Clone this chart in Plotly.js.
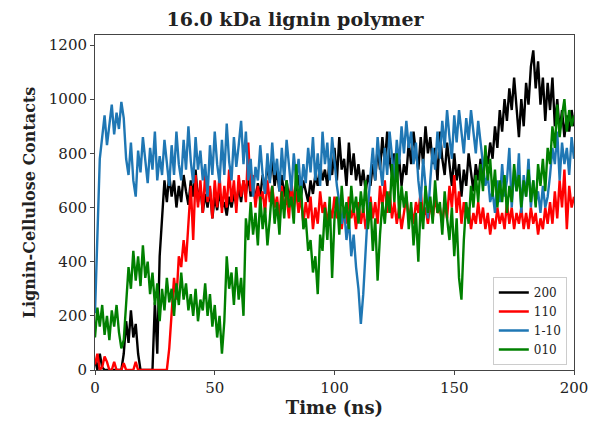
<!DOCTYPE html>
<html>
<head>
<meta charset="utf-8">
<script src="https://cdn.plot.ly/plotly-3.0.1.min.js"></script>
<style>html,body{margin:0;padding:0;background:#fff;}#chart{width:590px;height:426px;}</style>
</head>
<body>
<div id="chart"></div>
<script>
// Time axis: 0..200 ns, 1 ns step
var seriesNames = ["200", "110", "1-10", "010"];

var contacts200 = [
40, 0, 60, 10, 0, 0, 0, 0, 0, 0,
0, 0, 60, 180, 100, 220, 120, 170, 60, 0,
0, 0, 0, 0, 0, 250, 60, 420, 560, 700,
620, 720, 640, 700, 600, 680, 620, 720, 660, 610,
700, 640, 740, 620, 680, 580, 650, 600, 670, 560,
640, 590, 660, 600, 620, 570, 640, 600, 650, 610,
680, 620, 700, 650, 720, 640, 700, 620, 690, 640,
720, 660, 760, 700, 780, 680, 740, 660, 720, 640,
700, 630, 680, 620, 660, 720, 640, 700, 660, 620,
700, 650, 720, 680, 760, 700, 740, 680, 780, 720,
820, 700, 860, 740, 780, 680, 840, 720, 800, 700,
760, 680, 740, 660, 720, 680, 760, 700, 820, 740,
860, 760, 880, 780, 720, 800, 700, 780, 680, 760,
720, 840, 760, 880, 800, 740, 860, 760, 900, 800,
860, 760, 820, 700, 880, 780, 720, 840, 760, 680,
800, 700, 760, 640, 740, 680, 800, 720, 660, 760,
700, 780, 720, 800, 760, 840, 780, 900, 820, 960,
880, 1000, 920, 1040, 960, 1080, 980, 860, 1000, 900,
1060, 980, 1120, 1180, 1040, 1140, 980, 1080, 920, 1060,
960, 1080, 900, 1000, 880, 960, 860, 940, 880, 960,
900];

var contacts110 = [
20, 60, 0, 10, 50, 30, 0, 0, 30, 0,
0, 0, 25, 0, 0, 0, 0, 30, 0, 0,
0, 0, 0, 0, 0, 0, 0, 0, 0, 0,
0, 80, 200, 340, 260, 420, 380, 480, 400, 560,
680, 480, 720, 600, 700, 580, 720, 620, 680, 560,
700, 600, 720, 580, 680, 600, 740, 620, 700, 580,
720, 640, 700, 620, 840, 660, 720, 600, 680, 620,
660, 580, 700, 620, 680, 600, 640, 560, 680, 600,
640, 560, 700, 600, 660, 580, 640, 540, 620, 560,
640, 520, 600, 540, 660, 580, 620, 540, 600, 560,
640, 560, 620, 520, 600, 540, 640, 560, 600, 520,
620, 540, 600, 520, 580, 640, 560, 620, 540, 680,
600, 700, 580, 660, 560, 620, 540, 600, 520, 580,
640, 560, 600, 540, 620, 580, 660, 560, 600, 540,
620, 560, 640, 580, 600, 540, 620, 560, 680, 600,
720, 580, 660, 540, 620, 560, 600, 520, 580, 540,
620, 540, 600, 520, 580, 500, 560, 520, 600, 540,
580, 520, 620, 540, 600, 520, 580, 540, 600, 520,
580, 520, 600, 540, 580, 500, 560, 520, 600, 540,
620, 540, 660, 560, 700, 600, 740, 520, 680, 600,
640];

var contacts1m10 = [
210, 520, 780, 860, 940, 830, 900, 980, 870, 950,
890, 990, 930, 780, 720, 840, 700, 640, 810, 730,
860, 760, 690, 820, 740, 880, 700, 790, 720, 850,
760, 680, 830, 720, 880, 760, 700, 850, 740, 900,
770, 690, 860, 740, 810, 700, 760, 640, 830, 720,
880, 760, 690, 850, 720, 910, 770, 700, 860, 750,
830, 920, 760, 880, 700, 780, 640, 750, 700, 830,
720, 650, 800, 690, 840, 720, 780, 660, 820, 700,
850, 740, 660, 800, 700, 780, 650, 760, 690, 820,
730, 860, 700, 800, 680, 880, 760, 840, 700, 860,
760, 680, 620, 540, 600, 480, 560, 420, 500, 380,
300, 170, 280, 450, 600, 720, 820, 700, 860, 760,
680, 820, 720, 880, 780, 700, 850, 760, 900, 800,
920, 820, 880, 760, 840, 700, 620, 780, 680, 560,
700, 820, 740, 880, 780, 920, 820, 960, 860, 780,
940, 840, 960, 880, 800, 930, 850, 960, 880, 800,
920, 840, 760, 680, 720, 620, 660, 580, 700, 620,
760, 640, 700, 820, 600, 740, 660, 800, 580, 720,
640, 780, 600, 700, 620, 660, 580, 680, 600, 640,
720, 820, 760, 880, 700, 840, 760, 820, 720, 860,
780];

var contacts010 = [
120, 230, 160, 240, 130, 200, 110, 220, 160, 240,
140, 80, 110, 260, 380, 300, 440, 330, 420, 310,
460, 340, 400, 280, 360, 240, 320, 180, 300, 220,
340, 250, 300, 200, 320, 240, 360, 260, 320, 220,
280, 200, 300, 180, 260, 220, 320, 200, 280, 160,
240, 120, 200, 60, 180, 420, 300, 360, 240, 380,
260, 340, 200, 560, 480, 620, 500, 580, 460, 640,
520, 600, 460, 560, 680, 540, 620, 500, 660, 560,
700, 600, 640, 540, 760, 620, 680, 520, 560, 440,
480, 360, 420, 280, 500, 440, 600, 480, 640, 340,
560, 640, 500, 680, 560, 620, 520, 680, 580, 640,
540, 660, 580, 700, 520, 620, 440, 560, 330, 500,
620, 540, 660, 580, 760, 620, 800, 560, 680, 600,
660, 520, 620, 460, 580, 400, 620, 520, 680, 580,
640, 540, 700, 580, 620, 500, 660, 560, 480, 600,
420, 560, 340, 260, 480, 620, 540, 680, 600, 720,
620, 760, 660, 830, 700, 780, 640, 740, 600, 700,
620, 720, 580, 680, 620, 760, 660, 720, 600, 700,
640, 740, 620, 700, 600, 760, 680, 780, 660, 820,
760, 900, 820, 980, 860, 940, 1000, 880, 960, 900,
940];

var seriesColors = ["#000000", "#ff0000", "#1f77b4", "#008000"];
var xTickVals = [0, 50, 100, 150, 200];
var yTickVals = [0, 200, 400, 600, 800, 1000, 1200];

var time = [];
for (var i = 0; i < contacts200.length; i++) time.push(i);

var allSeries = [contacts200, contacts110, contacts1m10, contacts010];
var traces = allSeries.map(function (ys, k) {
  return {
    x: time, y: ys, type: "scatter", mode: "lines", name: seriesNames[k],
    line: {color: seriesColors[k], width: 2.4}
  };
});

var serif = "DejaVu Serif, Liberation Serif, serif";
var layout = {
  width: 590, height: 426,
  margin: {l: 95, r: 16, t: 35, b: 56},
  paper_bgcolor: "#fff", plot_bgcolor: "#fff",
  font: {family: serif, color: "#222", size: 15},
  title: {text: "<b>16.0 kDa lignin polymer</b>", font: {family: serif, size: 19, color: "#222"},
          x: 0.5, xanchor: "center", y: 0.955, yanchor: "middle"},
  showlegend: true,
  legend: {x: 0.985, xanchor: "right", y: 0.015, yanchor: "bottom",
           bordercolor: "#cccccc", borderwidth: 1, bgcolor: "#fff",
           font: {family: serif, size: 12, color: "#222"}, tracegroupgap: 0},
  xaxis: {range: [0, 200], tickvals: xTickVals, ticks: "outside", ticklen: 4, tickcolor: "#444",
          showgrid: false, zeroline: false, showline: true, linecolor: "#444", linewidth: 1, mirror: true,
          tickfont: {family: serif, size: 15, color: "#222"},
          title: {text: "<b>Time (ns)</b>", font: {family: serif, size: 18, color: "#222"}, standoff: 5}},
  yaxis: {range: [0, 1237], tickvals: yTickVals, ticks: "outside", ticklen: 4, tickcolor: "#444",
          showgrid: false, zeroline: false, showline: true, linecolor: "#444", linewidth: 1, mirror: true,
          tickfont: {family: serif, size: 15, color: "#222"},
          title: {text: "<b>Lignin-Cellulose Contacts</b>", font: {family: serif, size: 16, color: "#222"}, standoff: 9}}
};

Plotly.newPlot("chart", traces, layout, {displayModeBar: false, staticPlot: true});
</script>
</body>
</html>
